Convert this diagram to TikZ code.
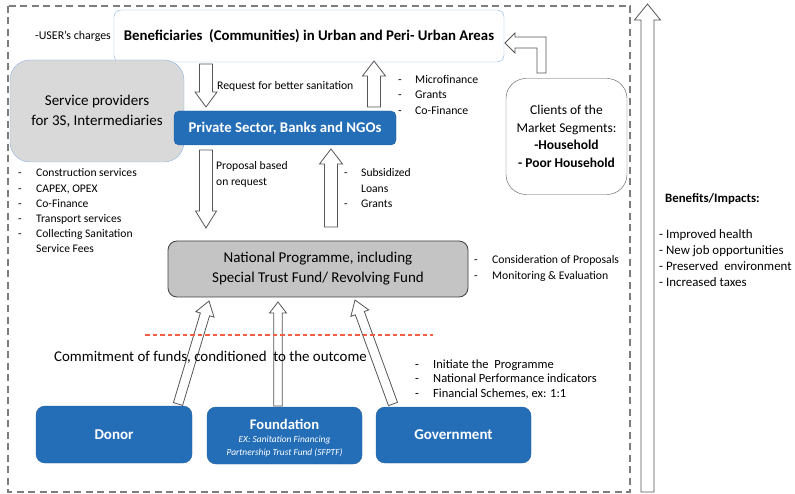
\documentclass[tikz,border=0pt]{standalone}
\usepackage{fontspec}
\setmainfont{Carlito}
\usetikzlibrary{calc}
\definecolor{boxblue}{RGB}{36,110,184}
\definecolor{lightblue}{RGB}{141,180,226}
\definecolor{svcgray}{RGB}{217,217,217}
\definecolor{natgray}{RGB}{196,196,196}
\definecolor{arrgray}{RGB}{85,85,85}
\definecolor{dashgray}{RGB}{125,125,125}
\definecolor{reddash}{RGB}{240,95,65}
\newcommand{\blockarrow}[5]{%
  \coordinate (bah) at ($(#2)!#5!(#1)$);
  \draw[blockarr] ($(#1)!#3!90:(#2)$) -- ($(bah)!#3!90:(#2)$) -- ($(bah)!#4!90:(#2)$) -- (#2)
    -- ($(bah)!#4!-90:(#2)$) -- ($(bah)!#3!-90:(#2)$) -- ($(#1)!#3!-90:(#2)$) -- cycle;}
\newcommand{\itm}[2]{\makebox[#1][l]{-}#2}
\tikzset{
  blockarr/.style={draw=arrgray, fill=white, line width=0.8pt, line join=miter},
  bluebox/.style={draw=boxblue!85!black, fill=boxblue, rounded corners=9pt, text=white,
    font=\fontsize{15}{17}\selectfont\bfseries, minimum width=156pt, minimum height=57pt, inner sep=0pt, align=center},
  lbl/.style={inner sep=0pt, align=left, anchor=west},
}
\begin{document}
\begin{tikzpicture}[x=1pt, y=-1pt]
\useasboundingbox (0,0) rectangle (795,494);
% outer dashed frame
\draw[dashgray, line width=1.6pt, dash pattern=on 7pt off 4.5pt] (8,6) rectangle (630,492);

% benefits arrow
\coordinate (bb) at (647.5,492);
\coordinate (bt) at (647.5,4);
\blockarrow{bb}{bt}{6.5pt}{13pt}{16pt}

% boxes
\node[draw=lightblue, fill=white, rounded corners=7pt, minimum width=390pt, minimum height=52pt, inner sep=0pt,
  font=\fontsize{14.8}{16}\selectfont\bfseries] (ben) at (309,36) {Beneficiaries\ \ (Communities) in Urban and Peri- Urban Areas};
\node[draw=lightblue, fill=svcgray, rounded corners=20pt, minimum width=174pt, minimum height=102pt, inner sep=0pt,
  align=center, font=\fontsize{15}{20}\selectfont] (svc) at (97,111) {Service providers\\for 3S, Intermediaries};
\node[draw=boxblue!85!black, fill=boxblue, rounded corners=5pt, minimum width=222pt, minimum height=34pt, inner sep=0pt,
  text=white, font=\fontsize{14.8}{16}\selectfont\bfseries] (priv) at (285,128) {Private Sector, Banks and NGOs};
\node[draw=arrgray, fill=white, rounded corners=20pt, minimum width=121pt, minimum height=116pt, inner sep=0pt,
  align=center, font=\fontsize{13.5}{17.7}\selectfont] (cli) at (566.5,136.5)
  {Clients of the\\Market Segments:\\\textbf{-Household}\\\textbf{- Poor Household}};
\node[draw=black!75, fill=natgray, rounded corners=9pt, minimum width=300pt, minimum height=56pt, inner sep=0pt,
  align=center, font=\fontsize{15}{20}\selectfont, line width=0.8pt] (nat) at (318,269)
  {National Programme, including\\Special Trust Fund/ Revolving Fund};
\node[bluebox] (donor) at (114,434.5) {Donor};
\node[bluebox, minimum width=155pt] (found) at (284.5,435.5) {};
\node[text=white, font=\fontsize{14.6}{16}\selectfont\bfseries, inner sep=0pt] (foundt) at (284.5,424) {Foundation};
\node[text=white, font=\fontsize{9.4}{13}\selectfont\itshape, inner sep=0pt, align=center] (foundx) at (284.5,446.5)
  {EX: Sanitation Financing\\Partnership Trust Fund (SFPTF)};
\node[bluebox, minimum width=155pt, minimum height=56pt] (gov) at (453.5,435) {Government};

% vertical arrows
\coordinate (r1a) at (206,64);  \coordinate (r1b) at (206,107);
\blockarrow{r1a}{r1b}{6.5pt}{11pt}{15pt}
\coordinate (m1a) at (374,107); \coordinate (m1b) at (374,61);
\blockarrow{m1a}{m1b}{6.5pt}{11.5pt}{15pt}
\coordinate (p1a) at (206,150); \coordinate (p1b) at (206,228);
\blockarrow{p1a}{p1b}{6.5pt}{10.5pt}{17pt}
\coordinate (s1a) at (331,227); \coordinate (s1b) at (331,149);
\blockarrow{s1a}{s1b}{6.5pt}{11.5pt}{15pt}
% funding arrows
\coordinate (d1a) at (178,404); \coordinate (d1b) at (209,301);
\blockarrow{d1a}{d1b}{4.8pt}{9.5pt}{14pt}
\coordinate (f1a) at (278,406); \coordinate (f1b) at (278,302);
\blockarrow{f1a}{f1b}{4.2pt}{8.5pt}{11pt}
\coordinate (g1a) at (393,404); \coordinate (g1b) at (355,300);
\blockarrow{g1a}{g1b}{4.8pt}{9.5pt}{14pt}

% elbow arrow clients -> beneficiaries
\draw[blockarr] (546,73) -- (546,37) -- (515,37) -- (515,33) -- (505,43) -- (515,53) -- (515,48) -- (537,48) -- (537,73) -- cycle;

% red dashed line
\coordinate (rl1) at (145,335); \coordinate (rl2) at (433,335);
\draw[reddash, line width=1.2pt, dash pattern=on 4.5pt off 3pt] (rl1) -- (rl2);

% labels
\node[lbl, font=\fontsize{11.9}{12}\selectfont] (user) at (35,36) {-USER's charges};
\node[lbl, font=\fontsize{11.7}{12}\selectfont] (req) at (217,86) {Request for better sanitation};
\node[lbl, font=\fontsize{11.8}{15.5}\selectfont] (micro) at (398,94.5)
  {\itm{17pt}{Microfinance}\\\itm{17pt}{Grants}\\\itm{17pt}{Co-Finance}};
\node[lbl, font=\fontsize{11.6}{16}\selectfont] (prop) at (216,174) {Proposal based\\on request};
\node[lbl, font=\fontsize{11.6}{15.5}\selectfont] (subs) at (344,188.5)
  {\itm{17pt}{Subsidized}\\\makebox[17pt]{}Loans\\\itm{17pt}{Grants}};
\node[lbl, font=\fontsize{11.6}{15.2}\selectfont] (svcl) at (18,211)
  {\itm{18pt}{Construction services}\\\itm{18pt}{CAPEX, OPEX}\\\itm{18pt}{Co-Finance}\\\itm{18pt}{Transport services}\\\itm{18pt}{Collecting Sanitation}\\\makebox[18pt]{}Service Fees};
\node[lbl, font=\fontsize{11.7}{16}\selectfont] (cons) at (474,268)
  {\itm{18pt}{Consideration of Proposals}\\\itm{18pt}{Monitoring \& Evaluation}};
\node[lbl, font=\fontsize{12.8}{13}\selectfont\bfseries] (benh) at (665,199) {Benefits/Impacts:};
\node[lbl, font=\fontsize{12.9}{16}\selectfont] (benl) at (659,258.5)
  {- Improved health\\- New job opportunities\\- Preserved\ \ environment\\- Increased taxes};
\node[lbl, font=\fontsize{14.9}{16}\selectfont] (commit) at (54,357) {Commitment of funds, conditioned\ \ to the outcome};
\node[lbl, font=\fontsize{12.5}{14.5}\selectfont] (govl) at (415,379)
  {\itm{18pt}{Initiate the\ \ Programme}\\\itm{18pt}{National Performance indicators}\\\itm{18pt}{Financial Schemes, ex: 1:1}};
\end{tikzpicture}
\end{document}
